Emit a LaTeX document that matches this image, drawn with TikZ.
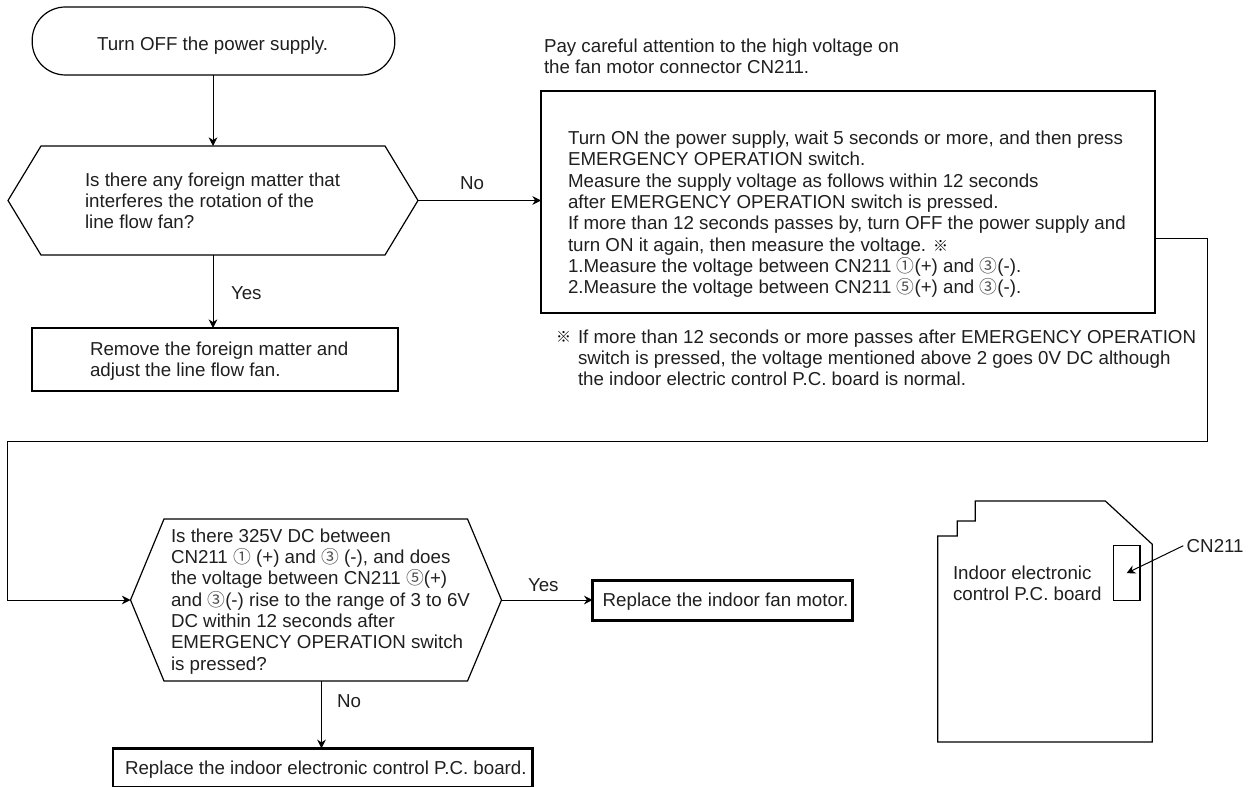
\documentclass[tikz,border=0pt]{standalone}
\usepackage{fontspec}
\setmainfont{Liberation Sans}
\newfontfamily\cjkf[Scale=0.95]{Noto Sans CJK JP}
\newfontfamily\cjkm[Scale=0.8]{Noto Sans CJK JP}
\newcommand{\cq}[1]{{\cjkf\textcolor{black!70}{#1}}}
\newcommand{\cmark}{{\cjkm\textcolor{black}{※}}}
\usetikzlibrary{arrows.meta}
\tikzset{
  x=0.75pt,y=-0.75pt,
  lbl/.style={inner sep=0pt,outer sep=0pt,anchor=base west,align=left,text=black!88,font=\fontsize{14.05pt}{16pt}\selectfont},
  shapebox/.style={inner sep=0pt,outer sep=0pt},
  startbox/.style={shapebox,draw,line width=0.9pt,rounded corners=25pt},
  thin box/.style={shapebox,draw,line width=1.2pt},
  endbox/.style={shapebox,draw,line width=2.2pt},
  hexline/.style={draw,line width=0.9pt},
  link/.style={line width=0.75pt,-{Stealth[length=6.5pt,width=6.5pt]}},
}
\begin{document}
\begin{tikzpicture}
\useasboundingbox (0,0) rectangle (1252,787);
% start
\node[startbox,minimum width=272pt,minimum height=51pt] (start) at (213.5,41) {};
\node[lbl] (tstart) at (97,51) {Turn OFF the power supply.};
% hexagon 1
\node[shapebox,minimum width=307.5pt,minimum height=81.75pt] (h1) at (213,200.5) {};
\path[hexline] (h1.west) -- (41,146) -- (385,146) -- (h1.east) -- (385,255) -- (41,255) -- cycle;
\node[lbl] (th1) at (85,229) {Is there any foreign matter that\\interferes the rotation of the\\line flow fan?};
% remove
\node[endbox,minimum width=274.5pt,minimum height=47.25pt] (rm) at (215,359.5) {};
\node[lbl] (trm) at (90,377) {Remove the foreign matter and\\adjust the line flow fan.};
\node[lbl] (tyes1) at (231,300) {Yes};
\draw[link] (start.south -| h1.south) -- (h1.south |- h1.north);
\draw[link] (h1.south) -- (h1.south |- rm.north);
% main box
\node[thin box,minimum width=460.5pt,minimum height=166.5pt] (main) at (848,202) {};
\node[lbl] (tpay) at (544,74) {Pay careful attention to the high voltage on\\the fan motor connector CN211.};
\node[lbl] (tmain) at (568,294) {Turn ON the power supply, wait 5 seconds or more, and then press\\EMERGENCY OPERATION switch.\\Measure the supply voltage as follows within 12 seconds\\after EMERGENCY OPERATION switch is pressed.\\If more than 12 seconds passes by, turn OFF the power supply and\\turn ON it again, then measure the voltage. \cmark\\1.Measure the voltage between CN211 \cq{①}(+) and \cq{③}(-).\\2.Measure the voltage between CN211 \cq{⑤}(+) and \cq{③}(-).};
\node[lbl] (tmark) at (556,343) {\cmark};
\node[lbl] (tnote) at (578,386) {If more than 12 seconds or more passes after EMERGENCY OPERATION\\switch is pressed, the voltage mentioned above 2 goes 0V DC although\\the indoor electric control P.C. board is normal.};
\node[lbl] (tno1) at (460,190) {No};
\draw[link] (h1.east) -- (h1.east -| main.west);
% hexagon 2
\node[shapebox,minimum width=278.25pt,minimum height=121.5pt] (h2) at (316,600) {};
\path[hexline] (h2.west) -- (164,519) -- (467.5,519) -- (h2.east) -- (467.5,681) -- (164,681) -- cycle;
\node[lbl] (th2) at (171,670) {Is there 325V DC between\\CN211 \cq{①} (+) and \cq{③} (-), and does\\the voltage between CN211 \cq{⑤}(+)\\and \cq{③}(-) rise to the range of 3 to 6V\\DC within 12 seconds after\\EMERGENCY OPERATION switch\\is pressed?};
\coordinate (c1) at (1207,239);
\coordinate (c2) at (1207,442);
\coordinate (c3) at (7,442);
\draw[link] (c1 -| main.east) -- (c1) -- (c2) -- (c3) -- (c3 |- h2.west) -- (h2.west);
% replace motor
\node[endbox,minimum width=195pt,minimum height=30pt] (rmotor) at (722.7,600.7) {};
\node[lbl] (trmotor) at (602.7,606.7) {Replace the indoor fan motor.};
\node[lbl] (tyes2) at (528,591) {Yes};
\draw[link] (h2.east) -- (h2.east -| rmotor.west);
% replace board
\node[endbox,minimum width=314.8pt,minimum height=29.4pt] (rboard) at (322.85,767.9) {};
\node[lbl] (trboard) at (125,774.3) {Replace the indoor electronic control P.C. board.};
\node[lbl] (tno2) at (337,707) {No};
\coordinate (noX) at (321.5,681);
\draw[link] (noX) -- (noX |- rboard.north);
% board
\node[shapebox,minimum width=161.5pt,minimum height=181pt] (pcb) at (1045,621.5) {};
\path[hexline] (937.7,742) -- (937.7,536) -- (957.3,536) -- (957.3,521) -- (975.3,521) -- (975.3,501) -- (1105.3,501) -- (1152.3,544.3) -- (1152.3,742) -- cycle;
\node[shapebox,draw,line width=0.9pt,minimum width=20pt,minimum height=41.25pt] (cn) at (1126.6,573.2) {};
\node[lbl] (tpcb) at (953,600.7) {Indoor electronic\\control P.C. board};
\node[lbl] (tcn) at (1186.7,552.7) {CN211};
\coordinate (cnfrom) at (1183.3,545.7);
\draw[link] (cnfrom) -- (cn.center);
\end{tikzpicture}
\end{document}
